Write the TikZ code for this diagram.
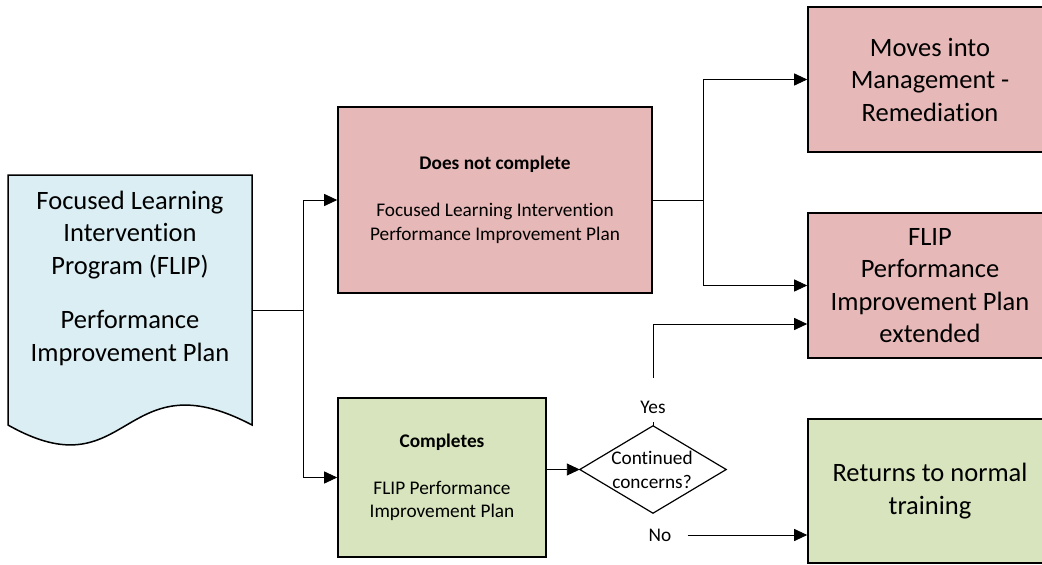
\documentclass[tikz,border=0pt]{standalone}
\usepackage{fontspec}
\setmainfont{Carlito}[Ligatures=NoCommon]
\usetikzlibrary{arrows.meta}
\definecolor{pinkbox}{HTML}{E6B8B7}
\definecolor{greenbox}{HTML}{D7E4BD}
\definecolor{bluedoc}{HTML}{DAEEF3}
\begin{document}
\begin{tikzpicture}[x=1pt,y=-1pt,
  big/.style={font=\fontsize{26.5}{32.5}\selectfont, align=center},
  small/.style={font=\fontsize{19.3}{23.5}\selectfont, align=center},
  box/.style={draw=black, line width=1.6pt, inner sep=0pt, align=center},
  conn/.style={line width=0.9pt, -{Triangle[length=13pt,width=12pt]}},
  plain/.style={line width=0.9pt}]
\clip (0,0) rectangle (1042,565);
\fill[white] (0,0) rectangle (1042,565);

% document shape
\node[minimum width=244pt, minimum height=270pt, inner sep=0pt] (doc) at (130,310) {};
\draw[fill=bluedoc, line width=1.5pt] (8,425) -- (8,175) -- (252,175) -- (252,425)
  .. controls (121,356) and (130,494) .. (8,425) -- cycle;
\node[big] (doctext) at (130,278) {Focused Learning\\Intervention\\Program (FLIP)\\[22pt]Performance\\Improvement Plan};

% boxes
\node[box, small, fill=pinkbox, minimum width=314pt, minimum height=186pt] (dnc) at (495,200)
  {\textbf{Does not complete}\\[23.5pt]Focused Learning Intervention\\Performance Improvement Plan};
\node[box, small, fill=greenbox, minimum width=208pt, minimum height=159pt] (comp) at (442,477.5)
  {\textbf{Completes}\\[23.5pt]FLIP Performance\\Improvement Plan};
\node[box, big, fill=pinkbox, minimum width=244pt, minimum height=145pt] (moves) at (930,79.5)
  {Moves into\\Management -\\Remediation};
\node[box, big, fill=pinkbox, minimum width=244pt, minimum height=145pt] (flip) at (930,285.5)
  {FLIP\\Performance\\Improvement Plan\\extended};
\node[box, big, fill=greenbox, minimum width=244pt, minimum height=144pt] (ret) at (930,491)
  {Returns to normal\\training};

% decision
\node[minimum width=146pt, minimum height=87pt, inner sep=0pt] (dia) at (653,469.5) {};
\draw[line width=1.2pt] (dia.west) -- (dia.north) -- (dia.east) -- (dia.south) -- cycle;
\node[small] (diatext) at (652,470) {Continued\\concerns?};

% labels
\node[small, anchor=base, inner ysep=0pt, text height=35pt, text depth=9pt] (yes) at (653,413) {Yes};
\node[small, inner xsep=16pt] (no) at (660,535) {No};

% connectors
\coordinate (j1) at (303,310);
\coordinate (j2) at (703,200);
\draw[plain] (doc.east) -- (j1);
\draw[conn] (j1) |- (dnc.west);
\draw[conn] (j1) |- (comp.west);
\draw[plain] (dnc.east) -- (j2);
\draw[conn] (j2) |- (moves.west);
\draw[conn] (j2) |- (flip.west);
\draw[conn] (comp.east |- dia.west) -- (dia.west);
\draw[plain] (dia.north) -- (yes.south);
\draw[conn] (yes.north) |- ([yshift=-38.5pt]flip.west);
\draw[conn] (no.east) -- (ret.west |- no.east);
\end{tikzpicture}
\end{document}
